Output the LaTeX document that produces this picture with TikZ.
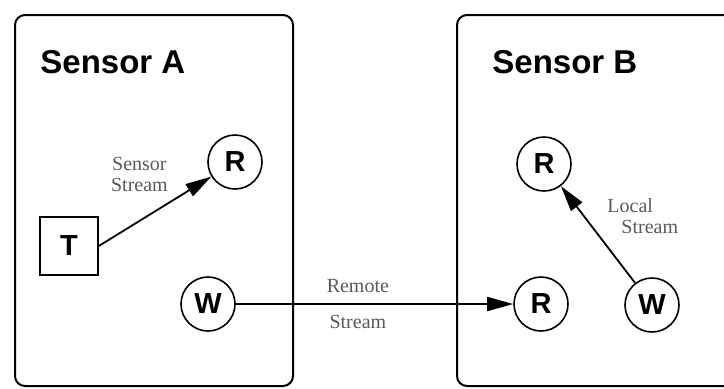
\documentclass[tikz,border=0pt]{standalone}
\usepackage{fontspec}
\setmainfont{Liberation Serif}
\setsansfont{Liberation Sans}
\usetikzlibrary{arrows.meta}
\usetikzlibrary{positioning}

\begin{document}
\begin{tikzpicture}[x=0.5pt,y=-0.5pt]
	\useasboundingbox (0,0) rectangle (724,388);
	\clip (0,0) rectangle (724,388);

	% the two sensor boxes
	\draw[line width=1pt, rounded corners=5pt] (15,15) rectangle (293,386);
	\draw[line width=1pt, rounded corners=5pt] (457,15) rectangle (770,386);
	\node[anchor=base west, inner sep=0pt, font=\sffamily\bfseries\fontsize{16.5}{19}\selectfont] (sa) at (40,73) {Sensor A};
	\node[anchor=base west, inner sep=0pt, font=\sffamily\bfseries\fontsize{16.5}{19}\selectfont] (sb) at (492,73) {Sensor B};

	\begin{scope}[every node/.style={circle, draw, line width=0.8pt, minimum size=27pt, inner sep=0pt,
	                                 font=\sffamily\bfseries\fontsize{14.5}{16}\selectfont}]
		\node (1) at (69,246) [rectangle, minimum size=29pt] {T};
		\node (2) at (235,162) {R};
		\node (3) at (208,304) {W};
		\node (4) at (544,164) {R};
		\node (5) at (541,304) {R};
		\node (6) at (652,305) {W};
	\end{scope}

	\begin{scope}[>={Triangle[length=13pt,width=7pt]},
	              every node/.style={font=\fontsize{10}{10.5}\selectfont, text=black!65},
	              every edge/.style={draw=black, line width=0.9pt}]
		\path (1.east) edge[->] node[pos=0.68, anchor=south east, align=center] (s1) {Sensor\\Stream} (2);
		\path (3) edge[->] node[pos=0.44, above=2pt] (s2) {Remote}
		                   node[pos=0.44, below=2pt] (s3) {Stream} (5);
		\path (6) edge[->] node[pos=0.69, right=8pt, align=left] (s4) {Local\\\hspace*{7pt}Stream} (4);
	\end{scope}
\end{tikzpicture}
\end{document}
